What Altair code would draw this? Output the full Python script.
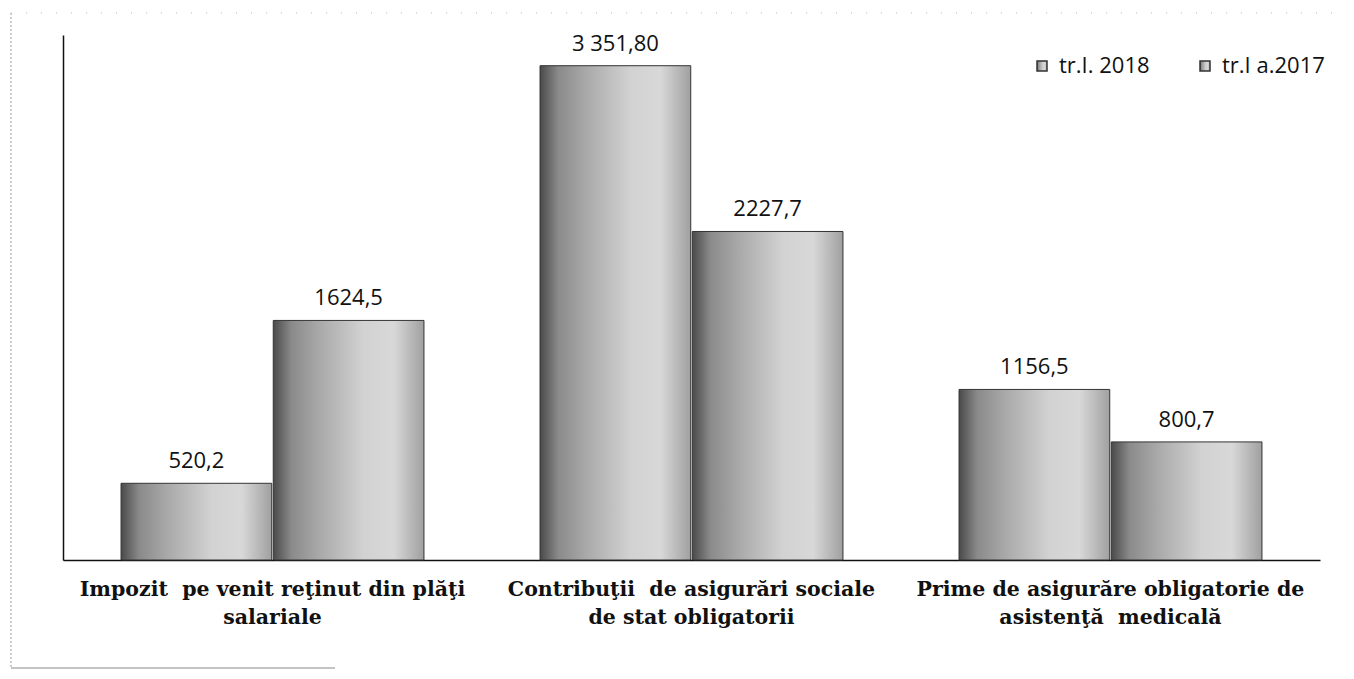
import altair as alt
import pandas as pd

categories = [
    "Impozit\u00a0 pe venit reţinut din plăţi|salariale",
    "Contribuţii\u00a0 de asigurări sociale|de stat obligatorii",
    "Prime de asigurăre obligatorie de|asistenţă\u00a0 medicală",
]
series = ["tr.I. 2018", "tr.I a.2017"]
values_2018 = [520.2, 3351.80, 1156.5]
values_2017 = [1624.5, 2227.7, 800.7]
labels_2018 = ["520,2", "3 351,80", "1156,5"]
labels_2017 = ["1624,5", "2227,7", "800,7"]

rows = []
for c, v, l in zip(categories, values_2018, labels_2018):
    rows.append({"cat": c, "series": series[0], "value": v, "label": l})
for c, v, l in zip(categories, values_2017, labels_2017):
    rows.append({"cat": c, "series": series[1], "value": v, "label": l})
df = pd.DataFrame(rows)

grad = alt.Gradient(
    gradient="linear", x1=0, x2=1, y1=0, y2=0,
    stops=[
        alt.GradientStop(color="#4a4a4a", offset=0),
        alt.GradientStop(color="#8a8a8a", offset=0.12),
        alt.GradientStop(color="#a8a8a8", offset=0.3),
        alt.GradientStop(color="#d2d2d2", offset=0.6),
        alt.GradientStop(color="#d8d8d8", offset=0.8),
        alt.GradientStop(color="#a0a0a0", offset=1),
    ],
)

x = alt.X(
    "cat:N", sort=categories, title=None,
    scale=alt.Scale(paddingInner=0.277, paddingOuter=0.1385),
    axis=alt.Axis(
        labelAngle=0, ticks=False, domainColor="#111", domainWidth=1.5,
        labelFont="DejaVu Serif", labelFontWeight="bold", labelFontSize=20.5,
        labelColor="#111", labelPadding=19, labelLineHeight=28,
        labelExpr="split(datum.label, '|')", labelLimit=0,
    ),
)
xo = alt.XOffset("series:N", sort=series, scale=alt.Scale(paddingInner=0.01))
y = alt.Y(
    "value:Q", title=None,
    scale=alt.Scale(domain=[0, 3560], nice=False),
    axis=alt.Axis(labels=False, ticks=False, grid=False, domainColor="#111", domainWidth=1.5),
)

base = alt.Chart(df)

bars = base.mark_bar(fill=grad, strokeWidth=1).encode(
    x=x, xOffset=xo, y=y,
    stroke=alt.Stroke(
        "series:N", sort=series,
        scale=alt.Scale(domain=series, range=["#333333", "#333333"]),
        legend=alt.Legend(
            title=None, orient="none", legendX=968, legendY=20,
            direction="horizontal", symbolType="square", symbolSize=100,
            symbolFillColor="#b0b0b0", symbolStrokeColor="#777777",
            labelFont="Open Sans", labelFontSize=22, labelColor="#111",
            columnPadding=44, symbolOffset=0, labelOffset=6,
        ),
    ),
)

text = base.mark_text(
    font="Open Sans", fontSize=22, color="#111", baseline="alphabetic", dy=-15
).encode(x=x, xOffset=xo, y=y, text="label:N")

frame_left = alt.Chart(pd.DataFrame({"a": [0]})).mark_rule(
    color="#999999", strokeDash=[2, 2], strokeWidth=1
).encode(x=alt.value(-52), y=alt.value(-22), y2=alt.value(633))
frame_bottom = alt.Chart(pd.DataFrame({"a": [0]})).mark_rule(
    color="#888888", strokeWidth=1
).encode(x=alt.value(-52), x2=alt.value(272), y=alt.value(633))
frame_top = alt.Chart(pd.DataFrame({"a": [0]})).mark_rule(
    color="#bbbbbb", strokeDash=[1, 14], strokeWidth=1
).encode(x=alt.value(-52), x2=alt.value(1285), y=alt.value(-22))

chart = (
    alt.layer(frame_left, frame_bottom, frame_top, bars, text)
    .properties(
        width=1257, height=525,
        autosize=alt.AutoSizeParams(type="none"),
        padding={"left": 55, "top": 27, "right": 26, "bottom": 111},
        background="white",
    )
    .configure_view(stroke=None)
)

chart.save("out.html", embed_options={"renderer": "svg", "actions": False})
